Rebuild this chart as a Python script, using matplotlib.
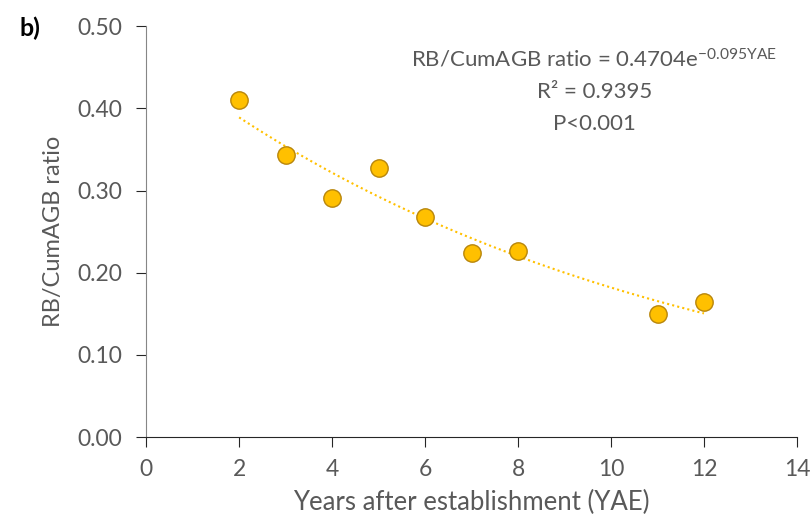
import numpy as np
import matplotlib
matplotlib.use("Agg")
import matplotlib.pyplot as plt

plt.rcParams['font.family'] = ['Lato', 'DejaVu Sans']
plt.rcParams['mathtext.default'] = 'regular'

# stand age (years) and root biomass / cumulative AGB ratio
yae = [2, 3, 4, 5, 6, 7, 8, 11, 12]
ratio = [0.410, 0.343, 0.291, 0.328, 0.268, 0.224, 0.226, 0.150, 0.164]

# exponential fit coefficients
fit_a = 0.4704
fit_b = -0.095

grey = '#595959'
gold = '#FFC000'

fig = plt.figure(figsize=(8.12, 5.24), dpi=100)
ax = fig.add_axes([0.180, 0.166, 0.8015, 0.784])

xs = np.linspace(min(yae), max(yae), 100)
ax.plot(xs, fit_a * np.exp(fit_b * xs), color=gold, linestyle=(0, (1, 1.5)), linewidth=1.5, zorder=2)
ax.plot(yae, ratio, 'o', markersize=12.5, markerfacecolor=gold,
        markeredgecolor='#B8860B', markeredgewidth=1.0, zorder=3)

ax.set_xlim(0, 14)
ax.set_ylim(0, 0.5)
ax.set_xticks(range(0, 15, 2))
ax.set_yticks(np.arange(0, 0.51, 0.1))
ax.set_yticklabels([f'{v:.2f}' for v in np.arange(0, 0.51, 0.1)])

for s in ['top', 'right']:
    ax.spines[s].set_visible(False)
ax.spines['left'].set_color('#868686')
ax.spines['bottom'].set_color('#262626')
ax.tick_params(axis='y', direction='out', length=7, color='#262626', labelsize=16.5, labelcolor=grey, pad=10)
ax.tick_params(axis='x', direction='out', length=7, color='#262626', labelsize=16.5, labelcolor=grey, pad=9)

ax.set_xlabel('Years after establishment (YAE)', fontsize=18.5, color=grey, labelpad=7)
ax.set_ylabel('RB/CumAGB ratio', fontsize=17, color=grey, labelpad=10)

ax.text(9.64, 0.459, r'RB/CumAGB ratio = 0.4704e$^{-0.095YAE}$', ha='center', va='center',
        fontsize=16, color=grey)
ax.text(9.64, 0.420, 'R² = 0.9395', ha='center', va='center', fontsize=16, color=grey)
ax.text(9.64, 0.381, 'P<0.001', ha='center', va='center', fontsize=16, color=grey)

fig.text(20 / 812, 1 - 28 / 524, 'b)', fontsize=18, fontweight='bold', color='black', ha='left', va='center')

fig.savefig('out.png', dpi=100)
